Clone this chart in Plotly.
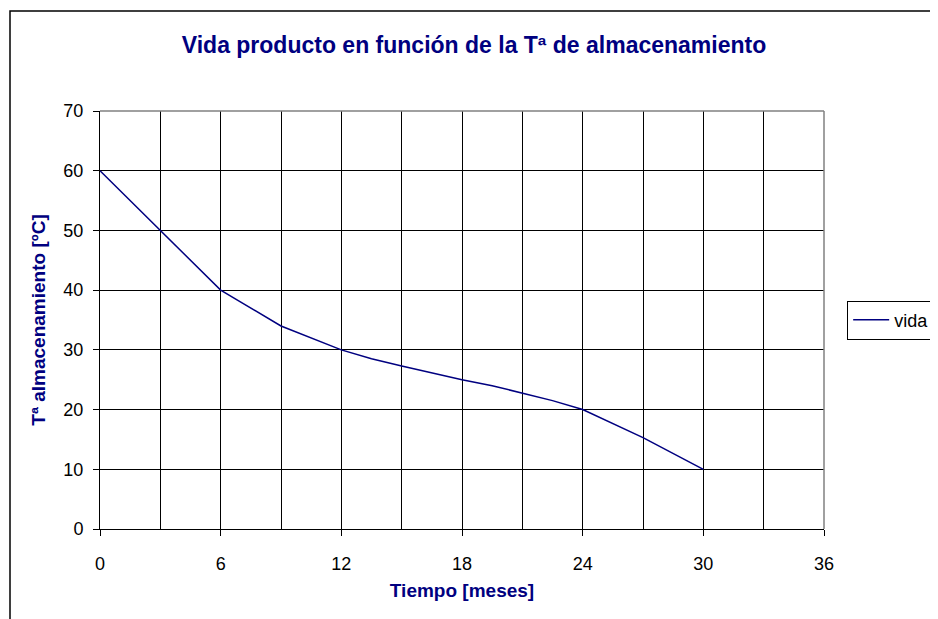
import plotly.graph_objects as go

# Data
tiempo = [0, 1.5, 3, 4, 6, 7, 9, 12, 13.5, 15, 18, 19.5, 21, 22.5, 24, 27, 30]
temperatura = [60, 55, 50, 46.6, 40, 38, 34, 30, 28.5, 27.3, 25, 24, 22.8, 21.5, 20, 15.3, 10]
x_ticks = [0, 6, 12, 18, 24, 30, 36]
y_ticks = [0, 10, 20, 30, 40, 50, 60, 70]
serie = "vida"

NAVY = "#000080"
FONT = "Arial, Liberation Sans, sans-serif"

# page has an 8px body margin -> figure drawn at (8,8)
W, H = 930, 611

fig = go.Figure()
fig.add_trace(go.Scatter(
    x=tiempo, y=temperatura, mode="lines", name=serie,
    line=dict(color=NAVY, width=1.5),
))

fig.update_layout(
    width=W, height=H,
    margin=dict(l=92, r=114, t=103, b=90, autoexpand=False),
    paper_bgcolor="white", plot_bgcolor="white",
    font=dict(family=FONT, size=18, color="black"),
    title=dict(text="<b>Vida producto en función de la Tª de almacenamiento</b>",
               x=(474 - 8) / W, xanchor="center", y=1 - (45 - 8) / H, yanchor="middle",
               font=dict(size=23, color=NAVY)),
    showlegend=True,
    legend=dict(x=1.032, y=0.5, xanchor="left", yanchor="middle",
                bordercolor="black", borderwidth=1, bgcolor="white",
                font=dict(size=18, color="black"), itemwidth=36,
                tracegroupgap=0),
)

fig.update_xaxes(
    range=[0, 36], tickvals=x_ticks, ticktext=[str(v) for v in x_ticks],
    showgrid=True, gridcolor="black", gridwidth=1,
    minor=dict(dtick=3, tick0=0, showgrid=True, gridcolor="black", gridwidth=1, ticks=""),
    showline=True, linecolor="black", linewidth=1,
    ticks="outside", ticklen=6, tickcolor="black", ticklabelstandoff=12,
    zeroline=False,
    title=dict(text="<b>Tiempo [meses]</b>", font=dict(size=19, color=NAVY), standoff=11),
)
fig.update_yaxes(
    range=[0, 70], tickvals=y_ticks, ticktext=[str(v) for v in y_ticks],
    showgrid=True, gridcolor="black", gridwidth=1,
    showline=True, linecolor="black", linewidth=1,
    ticks="outside", ticklen=6, tickcolor="black", ticklabelstandoff=6,
    zeroline=False,
    title=dict(text="<b>Tª almacenamiento [ºC]</b>", font=dict(size=19, color=NAVY), standoff=12),
)

# Plot-area border (gray on top/right)
fig.add_shape(type="line", xref="paper", yref="paper", x0=0, x1=1, y0=1, y1=1,
              line=dict(color="#808080", width=1.5), layer="above")
fig.add_shape(type="line", xref="paper", yref="paper", x0=1, x1=1, y0=0, y1=1,
              line=dict(color="#808080", width=1.5), layer="above")

# Outer chart frame (extends beyond the window on right and bottom)
fig.add_shape(type="rect", xref="paper", yref="paper",
              x0=(10 - 100) / 724, x1=1.4, y0=-0.5, y1=(529 - 11) / 418,
              line=dict(color="black", width=1.5), fillcolor="rgba(0,0,0,0)", layer="above")

fig.write_html("out.html")
